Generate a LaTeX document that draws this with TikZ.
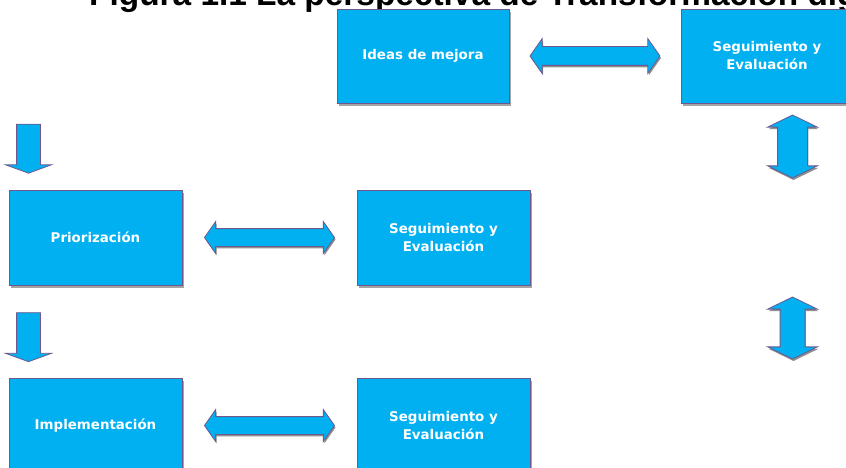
\documentclass[tikz,border=0pt]{standalone}
\usepackage{fontspec}
\setmainfont{DejaVu Sans}
\newfontfamily\titlefont{Liberation Sans}
\usetikzlibrary{calc}
\usetikzlibrary{shapes.arrows}
\usetikzlibrary{shadows}
\definecolor{boxfill}{RGB}{0,176,240}
\definecolor{boxline}{RGB}{112,88,140}

\begin{document}
\begin{tikzpicture}[x=1pt, y=-1pt,
    stepbox/.style={draw=boxline, fill=boxfill, line width=0.8pt,
        minimum width=173pt, minimum height=95pt, inner sep=0pt,
        text=white, align=center,
        font=\fontsize{13.4}{18}\selectfont\bfseries,
        drop shadow={shadow xshift=2pt, shadow yshift=-3pt, fill=black!45, opacity=0.8}},
    linkarrow/.style={double arrow, draw=boxline, fill=boxfill, line width=0.8pt,
        inner xsep=0pt, minimum width=0pt,
        drop shadow={shadow xshift=1pt, shadow yshift=-2pt, fill=black!55, opacity=0.8}},
    downarrow/.style={single arrow, draw=boxline, fill=boxfill, line width=0.8pt,
        inner xsep=0pt, minimum width=0pt, rotate=-90,
        single arrow head extend=11pt, single arrow tip angle=140,
        inner ysep=11.5pt, minimum height=49pt}]
    \useasboundingbox (0,0) rectangle (846,468);
    \clip (0,0) rectangle (846,468);

    % title, cut at the top edge
    \node[anchor=base west, inner sep=0pt, font=\titlefont\fontsize{33.4}{34}\selectfont\bfseries]
        (title) at (89,6) {Figura 1.1 La perspectiva de Transformación digital};

    % boxes
    \node[stepbox, minimum width=172pt, minimum height=94pt] (ideas) at (423,56) {Ideas de mejora};
    \node[stepbox, minimum width=172pt, minimum height=94pt] (segA) at (767,56) {Seguimiento y\\Evaluación};
    \node[stepbox] (prior) at (95.5,237.5) {Priorización};
    \node[stepbox] (segB) at (443.5,237.5) {Seguimiento y\\Evaluación};
    \node[stepbox] (impl) at (95.5,425.5) {Implementación};
    \node[stepbox] (segC) at (443.5,425.5) {Seguimiento y\\Evaluación};

    % horizontal block arrows
    \node[linkarrow, minimum height=130pt, inner ysep=9pt,
        double arrow head extend=8pt, double arrow tip angle=110]
        (linkA) at ($(ideas.east)!0.5!(segA.west)$) {};
    \node[linkarrow, minimum height=130pt, inner ysep=8.5pt,
        double arrow head extend=7pt, double arrow tip angle=110]
        (linkB) at ($(prior.east)!0.5!(segB.west)$) {};
    \node[linkarrow, minimum height=130pt, inner ysep=8.5pt,
        double arrow head extend=7pt, double arrow tip angle=110]
        (linkC) at ($(impl.east)!0.5!(segC.west)$) {};

    % vertical block arrows on the right
    \node[linkarrow, rotate=90, minimum height=63pt, inner ysep=14.5pt,
        double arrow head extend=10pt, double arrow tip angle=128]
        (linkD) at (792.5,146.5) {};
    \node[linkarrow, rotate=90, minimum height=62pt, inner ysep=12pt,
        double arrow head extend=12.5pt, double arrow tip angle=128]
        (linkE) at (792.5,328) {};

    % down arrows on the left
    \node[downarrow] (downA) at (28.5,146.5) {};
    \node[downarrow] (downB) at (28.5,335) {};
\end{tikzpicture}
\end{document}
